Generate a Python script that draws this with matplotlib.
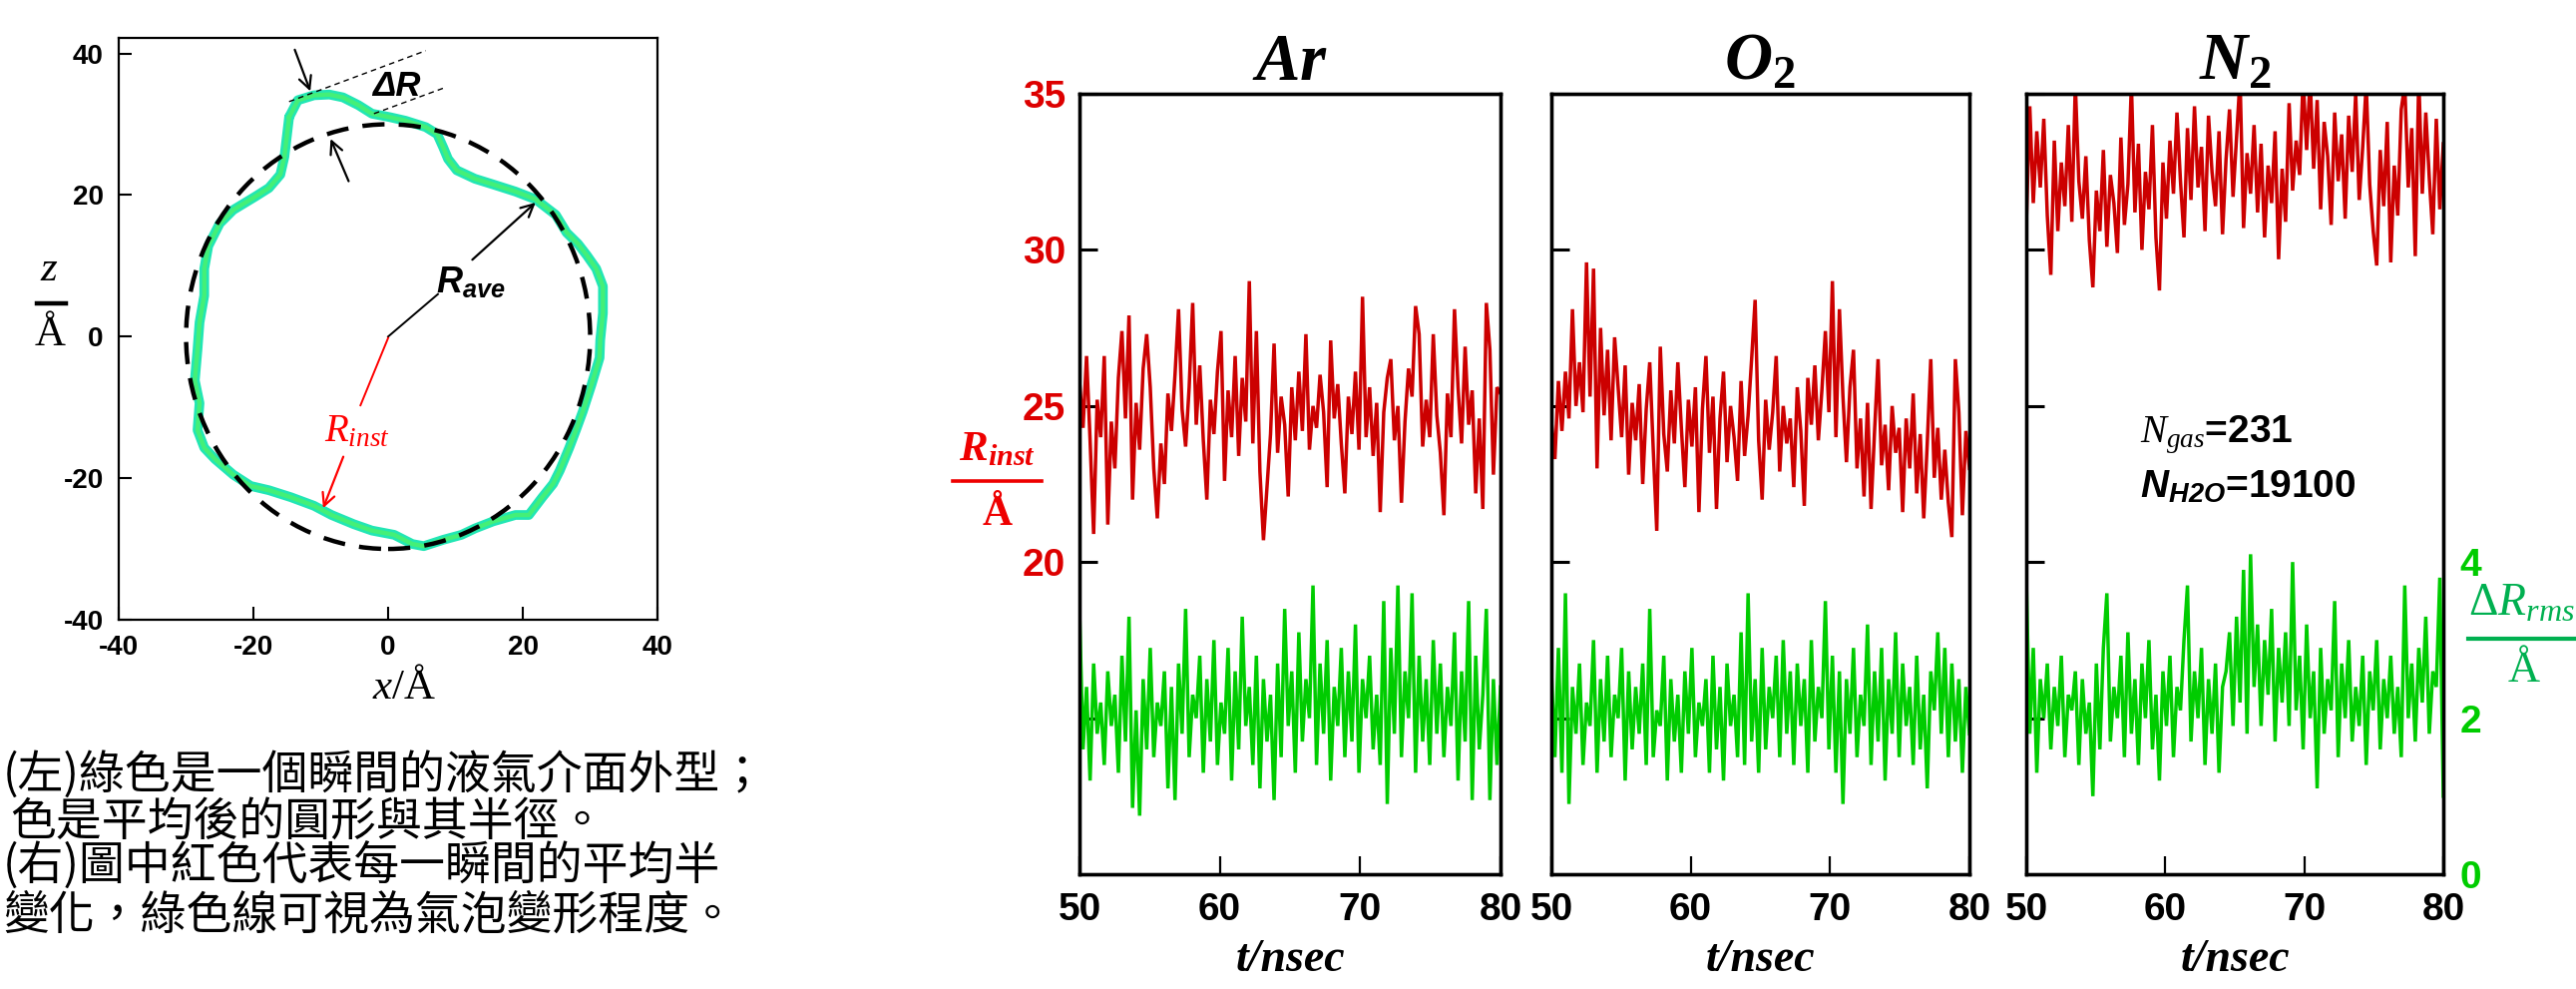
import numpy as np
import matplotlib
matplotlib.use('Agg')
import matplotlib.pyplot as plt
from matplotlib.patches import Circle
from matplotlib.lines import Line2D

plt.rcParams['axes.unicode_minus'] = False
plt.rcParams['mathtext.fontset'] = 'custom'
plt.rcParams['mathtext.rm'] = 'Liberation Serif'
plt.rcParams['mathtext.it'] = 'Liberation Serif:italic'
plt.rcParams['mathtext.bf'] = 'Liberation Serif:bold'
plt.rcParams['mathtext.sf'] = 'Liberation Sans:italic:bold'
HAS_BFIT = 'mathtext.bfit' in plt.rcParams
if HAS_BFIT:
    plt.rcParams['mathtext.bfit'] = 'Liberation Serif:italic:bold'

def bfit(s):
    return r'\mathbfit{%s}' % s if HAS_BFIT else r'\mathbf{%s}' % s

# ---------------- data ----------------
# instantaneous bubble outline (x, z) in Angstrom
outline_x = [-14.7, -13.4, -11.0, -8.7, -6.7, -4.4, -2.4, 0.3, 2.6, 5.6, 7.3, 8.2, 8.9, 10.2,
             12.9, 15.6, 18.9, 21.9, 24.9, 26.5, 28.2, 29.5, 30.9, 31.9, 31.9, 31.5, 31.4,
             30.2, 28.9, 27.9, 26.9, 25.5, 24.5, 22.9, 20.9, 18.9, 15.6, 12.9, 10.9, 8.2,
             5.3, 3.6, 0.9, -2.4, -5.1, -8.4, -11.0, -14.4, -17.7, -20.4, -23.0, -25.7,
             -27.3, -28.3, -28.0, -28.7, -28.3, -28.0, -27.3, -27.3, -26.7, -25.0, -23.0,
             -19.7, -17.7, -16.0, -15.4, -15.0, -14.7]
outline_z = [31.0, 33.4, 34.1, 34.2, 33.8, 32.7, 31.5, 31.0, 30.5, 29.6, 28.6, 26.7, 25.1, 23.5,
             22.3, 21.5, 20.5, 19.4, 17.2, 14.7, 13.1, 11.5, 9.6, 7.1, 3.3, -0.5, -3.0,
             -6.8, -10.6, -13.2, -15.7, -18.9, -20.8, -22.7, -25.2, -25.2, -26.1, -27.1,
             -28.0, -28.7, -29.6, -29.3, -28.0, -27.4, -26.5, -25.2, -23.9, -22.7, -21.7,
             -21.1, -19.5, -17.3, -15.7, -13.2, -9.4, -6.2, -1.8, 2.0, 5.8, 9.6, 12.8, 16.0,
             17.9, 19.8, 21.0, 22.9, 25.4, 28.6, 31.0]
R_AVE = 30.0

T_START, T_END = 50, 80
time_ticks = [50, 60, 70, 80]
gas_titles = ['Ar', 'O_2', 'N_2']

ar_rinst = [25.8, 24.3, 26.6, 23.9, 20.9, 25.2, 24.0, 26.6, 21.2, 24.5,
            23.0, 25.9, 27.4, 24.6, 27.9, 22.0, 25.1, 23.6, 26.2, 27.3,
            25.6, 23.0, 21.4, 23.8, 22.5, 25.4, 24.2, 26.0, 28.1, 24.9,
            23.7, 25.6, 28.3, 24.4, 26.3, 23.9, 22.0, 25.2, 24.1, 26.1,
            27.4, 22.6, 25.5, 24.0, 26.6, 23.4, 25.9, 24.5, 29.0, 23.8,
            27.4, 22.9, 20.7, 22.4, 24.1, 27.0, 23.5, 25.3, 24.4, 22.1,
            25.6, 23.9, 26.1, 24.2, 27.3, 23.6, 25.0, 24.3, 26.0, 24.8,
            22.4, 27.1, 24.6, 25.7, 23.8, 22.2, 25.3, 24.1, 26.1, 23.6,
            28.5, 24.0, 25.6, 23.4, 25.1, 21.6, 24.8, 25.9, 26.5, 23.9,
            25.0, 21.9, 24.5, 26.2, 25.3, 28.2, 27.3, 23.7, 25.2, 24.0,
            27.3, 24.7, 23.5, 21.5, 25.4, 24.0, 28.1, 25.6, 23.8, 26.9,
            24.4, 25.5, 22.2, 24.6, 21.7, 28.3, 26.8, 22.8, 25.6, 25.4]
ar_drms = [3.4, 1.6, 2.4, 1.2, 2.7, 1.8, 2.2, 1.4, 2.6, 1.9,
           2.3, 1.3, 2.8, 1.7, 3.3, 0.85, 2.1, 0.75, 2.5, 1.6,
           2.9, 1.5, 2.2, 1.9, 2.6, 1.1, 2.4, 0.95, 2.7, 1.8,
           3.4, 1.5, 2.3, 2.0, 2.8, 1.3, 2.5, 1.7, 3.0, 1.4,
           2.2, 1.8, 2.9, 1.2, 2.6, 1.6, 3.3, 1.9, 2.4, 1.4,
           2.8, 1.1, 2.5, 1.7, 2.3, 0.95, 2.7, 1.5, 3.4, 1.9,
           2.6, 1.3, 3.1, 1.7, 2.5, 2.0, 3.7, 1.4, 2.7, 1.8,
           3.0, 1.2, 2.4, 1.9, 2.9, 1.5, 2.6, 1.7, 3.2, 1.3,
           2.5, 2.0, 2.8, 1.6, 2.3, 1.4, 3.5, 0.9, 2.9, 1.8,
           3.7, 1.5, 2.6, 2.0, 3.6, 1.3, 2.8, 1.7, 2.5, 1.4,
           3.0, 1.8, 2.7, 1.5, 2.4, 1.9, 3.1, 1.2, 2.6, 1.7,
           3.5, 0.95, 2.8, 1.6, 2.3, 3.4, 0.95, 2.5, 1.4, 2.4]
o2_rinst = [24.5, 23.3, 25.8, 24.2, 26.1, 24.6, 28.1, 25.0, 26.4, 24.8,
            29.6, 25.3, 29.4, 23.0, 27.5, 24.7, 26.8, 23.9, 27.2, 25.6,
            24.0, 26.3, 22.8, 25.1, 23.9, 25.7, 22.5, 24.9, 26.4, 23.6,
            21.0, 26.9, 24.1, 22.9, 25.5, 23.8, 26.4, 24.3, 22.4, 25.2,
            23.7, 25.6, 21.6, 24.9, 26.6, 23.5, 25.3, 21.7, 24.6, 26.1,
            23.2, 25.0, 24.0, 22.6, 25.8, 23.4, 24.7, 26.5, 28.4, 23.9,
            22.0, 25.2, 23.6, 24.8, 26.6, 22.9, 25.0, 23.8, 24.6, 22.4,
            25.6, 24.2, 21.8, 25.9, 24.4, 26.3, 23.9, 25.5, 27.4, 24.8,
            29.0, 24.0, 28.1, 25.3, 23.2, 25.6, 26.8, 23.0, 24.6, 22.1,
            25.1, 21.7, 24.2, 26.5, 23.1, 24.4, 22.3, 25.0, 23.5, 24.3,
            21.6, 24.6, 23.0, 25.4, 22.2, 24.1, 21.4, 23.8, 26.5, 22.7,
            24.3, 22.0, 23.6, 21.9, 20.8, 26.5, 24.8, 21.5, 24.2, 23.0]
o2_drms = [2.6, 1.5, 2.9, 1.3, 3.6, 0.9, 2.4, 1.8, 2.7, 1.4,
           2.2, 1.9, 3.0, 1.3, 2.5, 1.7, 2.8, 1.5, 2.3, 2.0,
           2.9, 1.2, 2.6, 1.6, 2.4, 1.8, 2.7, 1.4, 3.4, 1.5,
           2.1, 1.9, 2.8, 1.2, 2.5, 1.7, 2.3, 1.3, 2.6, 1.8,
           2.9, 1.5, 2.2, 1.9, 2.5, 1.3, 2.8, 1.6, 2.4, 1.2,
           2.7, 1.9, 2.3, 1.5, 3.1, 1.4, 3.6, 1.7, 2.5, 1.3,
           2.9, 1.6, 2.4, 2.0, 2.8, 1.5, 3.0, 1.8, 2.6, 1.4,
           2.7, 1.9, 2.5, 1.3, 3.0, 1.7, 2.4, 2.0, 3.5, 1.6,
           2.8, 1.3, 2.6, 0.9, 2.5, 1.8, 2.9, 1.5, 2.3, 1.9,
           3.2, 1.4, 2.6, 1.7, 2.9, 1.2, 2.5, 1.8, 3.1, 1.5,
           2.7, 1.9, 2.4, 1.4, 2.8, 1.6, 2.3, 1.1, 2.6, 2.1,
           3.1, 1.8, 2.9, 1.5, 2.7, 1.7, 2.5, 1.3, 2.4, 1.8]
n2_rinst = [30.8, 34.6, 31.5, 33.8, 32.0, 34.2, 31.1, 29.2, 33.5, 30.6,
            32.8, 31.4, 34.0, 30.9, 35.3, 32.2, 31.0, 33.0, 30.3, 28.8,
            31.9, 30.6, 33.2, 30.1, 32.4, 31.5, 29.9, 33.6, 30.8, 32.1,
            35.3, 31.2, 33.4, 30.0, 32.5, 31.3, 34.0, 30.4, 28.7, 32.8,
            31.0, 33.5, 31.8, 34.4, 32.2, 30.4, 33.9, 31.6, 34.6, 32.0,
            33.3, 30.6, 34.3, 32.5, 31.4, 33.8, 30.5, 32.9, 34.5, 31.7,
            33.6, 35.5, 30.7, 33.1, 31.8, 34.0, 31.2, 33.4, 30.4, 32.7,
            31.5, 33.8, 29.7, 32.6, 30.9, 34.7, 31.9, 33.5, 32.4, 35.5,
            33.2, 35.5, 32.6, 34.8, 31.3, 34.1, 33.0, 30.8, 34.4, 32.2,
            33.7, 31.0, 34.3, 32.5, 35.0, 31.6, 33.3, 35.3, 32.1, 30.6,
            29.5, 33.2, 31.4, 34.1, 29.6, 32.7, 31.1, 34.5, 35.3, 32.0,
            33.9, 29.8, 35.5, 31.8, 34.4, 32.3, 30.5, 34.2, 31.3, 33.4]
n2_drms = [3.8, 1.8, 2.9, 1.3, 2.5, 2.0, 2.7, 1.6, 2.4, 1.9,
           2.8, 1.5, 2.3, 2.1, 2.6, 1.4, 2.5, 1.8, 2.2, 1.0,
           2.7, 1.6, 2.9, 3.6, 1.7, 2.4, 2.0, 2.8, 1.5, 3.1,
           1.8, 2.5, 1.4, 2.7, 2.0, 3.0, 1.6, 2.3, 1.2, 2.6,
           1.9, 2.8, 1.5, 2.4, 2.1, 3.0, 3.7, 1.7, 2.6, 2.0,
           2.9, 1.4, 2.5, 1.8, 2.7, 1.3, 2.4, 2.6, 3.1, 1.9,
           3.3, 2.2, 3.9, 1.8, 4.1, 2.4, 3.2, 1.9, 3.0, 2.3,
           3.4, 1.7, 2.9, 2.2, 3.1, 1.9, 4.0, 2.1, 2.8, 1.6,
           3.2, 2.0, 2.6, 1.1, 2.9, 1.8, 2.5, 2.1, 3.5, 1.5,
           2.7, 2.0, 3.0, 1.7, 2.4, 1.9, 2.8, 1.4, 2.6, 2.1,
           3.0, 1.6, 2.5, 2.0, 2.8, 1.8, 2.4, 1.5, 3.7, 2.0,
           2.7, 1.7, 2.9, 2.2, 3.3, 1.8, 2.6, 2.4, 3.8, 1.0]

rinst_series = [ar_rinst, o2_rinst, n2_rinst]
drms_series = [ar_drms, o2_drms, n2_drms]

caption_lines = ['(左)綠色是一個瞬間的液氣介面外型；',
                 '色是平均後的圓形與其半徑。',
                 '(右)圖中紅色代表每一瞬間的平均半',
                 '變化，綠色線可視為氣泡變形程度。']

# ---------------- styling ----------------
W, H = 2582, 991
RED_LINE = '#cc0000'
RED_TXT = '#dd0000'
GREEN_LINE = '#00cc00'
GREEN_LBL = '#00b050'
BUBBLE_EDGE = '#22e6b4'
BUBBLE_CORE = '#44ef78'
SANS_BOLD = ['Liberation Sans Narrow', 'Liberation Sans', 'DejaVu Sans']
CJK = ['Noto Sans CJK TC', 'DejaVu Sans']
SERIES_LW = 2.5

def fx(px):
    return px / W

def fy(py):
    return 1 - py / H

fig = plt.figure(figsize=(W / 100, H / 100), dpi=100)

# ---------------- left: bubble outline ----------------
ax0 = fig.add_axes([fx(119), fy(621), (659 - 119) / W, (621 - 38) / H])
ax0.plot(outline_x, outline_z, color=BUBBLE_EDGE, lw=7.0, solid_capstyle='round',
         solid_joinstyle='round', zorder=2)
ax0.plot(outline_x, outline_z, color=BUBBLE_CORE, lw=3.2, solid_joinstyle='round', zorder=3)
ax0.add_patch(Circle((0, 0), R_AVE, fill=False, ec='black', lw=3.2,
                     linestyle=(0, (5, 3.2)), zorder=4))
ax0.set_xlim(-40, 40)
ax0.set_ylim(-40, 42.2)
ax0.set_xticks([-40, -20, 0, 20, 40])
ax0.set_yticks([-40, -20, 0, 20, 40])
ax0.tick_params(direction='in', length=9.5, width=1.5, pad=11, labelsize=20,
                top=False, right=False)
for lab in ax0.get_xticklabels() + ax0.get_yticklabels():
    lab.set_fontfamily(['Liberation Sans', 'DejaVu Sans'])
    lab.set_fontweight('bold')
for sp in ax0.spines.values():
    sp.set_linewidth(1.6)

# annotations in the bubble panel
ax0.plot([-14.7, 5.6], [33.2, 40.4], color='black', lw=1.0, linestyle=(0, (4, 3)), zorder=5)
ax0.plot([-2.1, 8.2], [31.5, 35.1], color='black', lw=1.0, linestyle=(0, (4, 3)), zorder=5)
arrow_kw = dict(arrowstyle='->,head_length=0.9,head_width=0.45', color='black', lw=1.6)
ax0.annotate('', xy=(-11.4, 34.3), xytext=(-14.0, 40.9), arrowprops=arrow_kw, zorder=6)
ax0.annotate('', xy=(-8.7, 28.3), xytext=(-5.7, 21.6), arrowprops=arrow_kw, zorder=6)
ax0.text(1.3, 35.3, 'ΔR', fontsize=25, fontweight='bold', fontstyle='italic',
         family=['Liberation Sans', 'DejaVu Sans'], ha='center', va='center', zorder=6)
ax0.plot([0, 7.4], [0, 6.0], color='black', lw=1.4, zorder=5)
ax0.text(12.3, 7.6, r'$\mathsf{R}_{\mathsf{ave}}$', fontsize=26, ha='center', va='center', zorder=6)
ax0.annotate('', xy=(22.2, 19.2), xytext=(12.2, 10.6), arrowprops=arrow_kw, zorder=6)
ax0.plot([0, -4.1], [-0.2, -9.7], color='red', lw=1.4, zorder=5)
ax0.text(-4.6, -13.3, r'$R_{inst}$', fontsize=28, color='red', ha='center', va='center', zorder=6)
ax0.annotate('', xy=(-9.8, -24.6), xytext=(-6.5, -16.6),
             arrowprops=dict(arrowstyle='->,head_length=0.9,head_width=0.45', color='red', lw=1.6),
             zorder=6)

# axis labels of the bubble panel
fig.text(fx(49), fy(269), r'$z$', fontsize=31, ha='center', va='center')
fig.add_artist(Line2D([fx(37), fx(66)], [fy(304), fy(304)], color='black', lw=3.2))
fig.text(fx(50), fy(336), 'Å', fontsize=31, family=['Liberation Serif'], ha='center', va='center')
fig.text(fx(405), fy(689), r'$x$/Å', fontsize=31, family=['Liberation Serif'],
         ha='center', va='center')

# Chinese caption
cap_x = [3, 10, 3, 3]
cap_y = [777, 823, 869, 917]
for s, xx, yy in zip(caption_lines, cap_x, cap_y):
    fig.text(fx(xx), fy(yy), s, fontsize=33, family=CJK, ha='left', va='center')

# ---------------- right: time series panels ----------------
panel_px = [(1082, 1504), (1555, 1974), (2031, 2449)]
TOP, BOT = 94, 876
for k in range(3):
    l, r = panel_px[k]
    ax = fig.add_axes([fx(l), fy(BOT), (r - l) / W, (BOT - TOP) / H])
    rin = rinst_series[k]
    t = np.linspace(T_START, T_END, len(rin))
    ax.plot(t, rin, color=RED_LINE, lw=SERIES_LW, solid_joinstyle='miter')
    ax.set_xlim(T_START, T_END)
    ax.set_ylim(10, 35)
    ax.set_xticks(time_ticks)
    ax.set_yticks([15, 20, 25, 30, 35])
    ax.set_yticklabels(['', '20', '25', '30', '35'])
    ax.tick_params(axis='x', direction='in', length=13, width=1.6, pad=13, labelsize=28,
                   top=False)
    ax.tick_params(axis='y', direction='in', length=13, width=2.2, pad=10, labelsize=28,
                   left=True, right=True, labelleft=(k == 0), labelright=False,
                   labelcolor=RED_TXT)
    for lab in ax.get_xticklabels() + ax.get_yticklabels():
        lab.set_fontfamily(SANS_BOLD)
        lab.set_fontweight('bold')
    for sp in ax.spines.values():
        sp.set_linewidth(2.4)
    ax.set_xlabel('t/nsec', fontsize=33, family=['Liberation Serif'], fontstyle='italic',
                  fontweight='bold', labelpad=8)
    g = gas_titles[k]
    if '_' in g:
        a, b = g.split('_')
        title = r'$%s_{\mathbf{%s}}$' % (bfit(a), b)
    else:
        title = r'$%s$' % bfit(g)
    ax.set_title(title, fontsize=48, pad=6)

    tw = ax.twinx()
    drm = drms_series[k]
    t2 = np.linspace(T_START, T_END, len(drm))
    tw.plot(t2, drm, color=GREEN_LINE, lw=SERIES_LW, solid_joinstyle='miter')
    tw.set_ylim(0, 10)
    tw.set_yticks([0, 2, 4])
    tw.tick_params(axis='y', length=0, pad=12, labelsize=28, labelright=(k == 2),
                   labelcolor=GREEN_LINE)
    for lab in tw.get_yticklabels():
        lab.set_fontfamily(SANS_BOLD)
        lab.set_fontweight('bold')
    for sp in tw.spines.values():
        sp.set_linewidth(2.4)

# panel annotations
fig.text(fx(2145), fy(443), r'$N_{gas}$=231', fontsize=28, fontweight='bold',
         family=['Liberation Sans'], ha='left', va='baseline')
fig.text(fx(2145), fy(498), r'$\mathsf{N}_{\mathsf{H2O}}$=19100', fontsize=28, fontweight='bold',
         family=['Liberation Sans'], ha='left', va='baseline')

# left y-label of the time panels (R_inst / Å)
fig.text(fx(1000), fy(449), r'$%s_{%s}$' % (bfit('R'), bfit('inst')), fontsize=31,
         color='#ee0000', ha='center', va='center')
fig.add_artist(Line2D([fx(955), fx(1044)], [fy(482), fy(482)], color='#ee0000', lw=2.6))
fig.text(fx(1000), fy(516), 'Å', fontsize=30, fontweight='bold', family=['Liberation Serif'],
         color='#ee0000', ha='center', va='center')

# right y-label (ΔR_rms / Å)
fig.text(fx(2474), fy(604), r'$\Delta R_{rms}$', fontsize=33, color=GREEN_LBL,
         ha='left', va='center')
fig.add_artist(Line2D([fx(2474), fx(2582)], [fy(640), fy(640)], color=GREEN_LBL, lw=3.0))
fig.text(fx(2530), fy(672), 'Å', fontsize=32, family=['Liberation Serif'], color=GREEN_LBL,
         ha='center', va='center')

fig.savefig('out.png', dpi=100)
